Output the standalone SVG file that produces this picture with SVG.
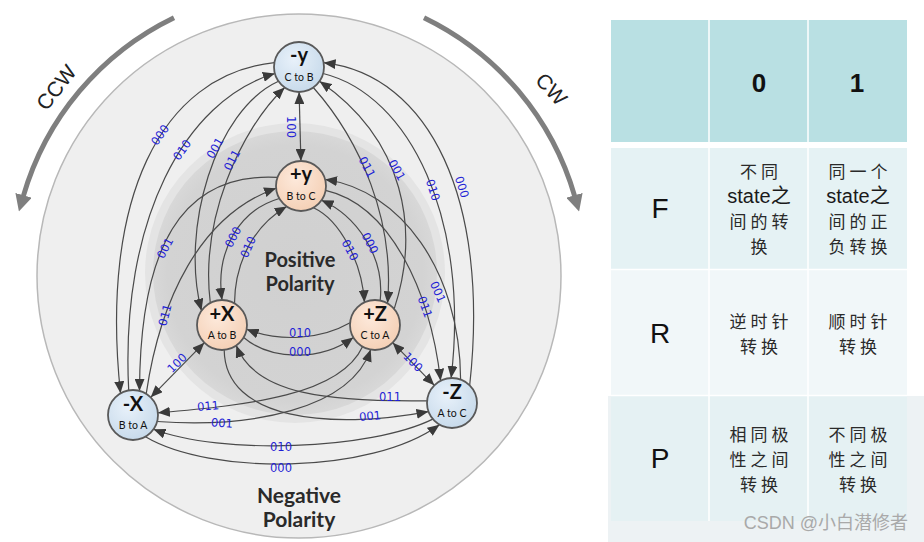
<svg xmlns="http://www.w3.org/2000/svg" width="924" height="542" viewBox="0 0 924 542">
<style>
.edge{fill:none;stroke:#4a4a4a;stroke-width:1.2;marker-end:url(#ah)}
.bi{marker-start:url(#ah)}
.lbl{font-family:"DejaVu Sans",sans-serif;font-size:11.5px;fill:#1f1fd6;text-anchor:middle}
.nt{font-family:Lato,"Liberation Sans",sans-serif;font-weight:bold;font-size:20px;text-anchor:middle;fill:#111}
.ns{font-family:Lato,"Liberation Sans",sans-serif;font-size:10.5px;text-anchor:middle;fill:#111}
.neg{fill:url(#gneg);stroke:#595959;stroke-width:1.8}
.pos{fill:url(#gpos);stroke:#595959;stroke-width:1.8}
.pol{font-family:Lato,"Liberation Sans",sans-serif;font-weight:bold;font-size:20px;text-anchor:middle;fill:#2a2a2a}
.rot{fill:none;stroke:#7f7f7f;stroke-width:5;marker-end:url(#big)}
.rt{font-family:"Liberation Sans",sans-serif;font-size:21px;fill:#222;text-anchor:middle}
.hd{font-family:"Liberation Sans",sans-serif;font-weight:bold;font-size:26px;fill:#111;text-anchor:middle}
.rl{font-family:"Liberation Sans",sans-serif;font-size:28px;fill:#111;text-anchor:middle}
.cj{font-family:"Liberation Sans","Noto Sans CJK SC",sans-serif;font-size:17px;fill:#2a2a2a;text-anchor:middle;letter-spacing:4px}
.st{font-family:"Liberation Sans","Noto Sans CJK SC",sans-serif;font-size:20px;fill:#1a1a1a;text-anchor:middle}
</style>
<defs>
<marker id="ah" viewBox="0 0 12 10" refX="12" refY="5" markerWidth="12" markerHeight="10" markerUnits="userSpaceOnUse" orient="auto-start-reverse"><path d="M0,0 L12,5 L0,10 z" fill="#3a3a3a"/></marker>
<marker id="big" viewBox="0 0 10 10" refX="1" refY="5" markerWidth="17" markerHeight="17" markerUnits="userSpaceOnUse" orient="auto"><path d="M0,0 L10,5 L0,10 z" fill="#7f7f7f"/></marker>
<radialGradient id="gneg" cx="0.4" cy="0.35" r="0.7"><stop offset="0" stop-color="#e8f1fa"/><stop offset="1" stop-color="#c6d9ea"/></radialGradient>
<radialGradient id="gpos" cx="0.4" cy="0.35" r="0.7"><stop offset="0" stop-color="#fde9db"/><stop offset="1" stop-color="#f4cfb4"/></radialGradient>
<radialGradient id="ginner" cx="0.5" cy="0.5" r="0.5"><stop offset="0" stop-color="#d0d0d0"/><stop offset="0.9" stop-color="#d3d3d3"/><stop offset="1" stop-color="#d8d8d8"/></radialGradient>
</defs>
<rect width="924" height="542" fill="#ffffff"/>
<g id="background">
<circle cx="299" cy="276" r="262" fill="#efefef" stroke="#b8b8b8" stroke-width="1.5"/>
<circle cx="295" cy="273" r="150" fill="#e4e4e4"/>
<circle cx="295" cy="273" r="142" fill="url(#ginner)"/>
<text class="pol" x="300" y="267">Positive</text>
<text class="pol" x="300" y="291">Polarity</text>
<text class="pol" x="299" y="503" style="font-size:21px">Negative</text>
<text class="pol" x="299" y="527" style="font-size:21px">Polarity</text>
</g>
<g id="rotation">
<path class="rot" d="M174,17.7 A287,287 0 0 0 23.1,196.9"/>
<path class="rot" d="M424,17.7 A287,287 0 0 1 574.9,196.9"/>
<text class="rt" transform="translate(62,92) rotate(-52)">CCW</text>
<text class="rt" transform="translate(546,94) rotate(48)">CW</text>
</g>
<g id="connectors">
<path class="edge bi" d="M299.1,92 L300.9,161"/>
<path class="edge bi" d="M150.7,397.3 L204.3,342.7"/>
<path class="edge bi" d="M392.7,342.7 L434.3,385.3"/>
<path class="edge" d="M274.4,62.7 C160,75 100,200 120.5,393.3"/>
<path class="edge" d="M128.7,390.4 C120,220 185,100 274.9,73.5"/>
<path class="edge" d="M278.5,81.3 C215,110 180,230 201.5,310.7"/>
<path class="edge" d="M210.3,302.9 C200,220 240,130 284.7,87.5"/>
<path class="edge" d="M277.5,177.4 C180,172 140,250 139.5,390.9"/>
<path class="edge" d="M146.2,393.8 C160,300 200,215 276.1,188.2"/>
<path class="edge" d="M469.7,385.3 C490,200 430,75 323.6,62.7"/>
<path class="edge" d="M323.1,73.5 C410,95 470,220 451.1,378"/>
<path class="edge" d="M313.3,87.5 C360,140 395,220 387.5,303.3"/>
<path class="edge" d="M394.2,308.9 C420,230 405,140 319.5,81.3"/>
<path class="edge" d="M460.6,379.5 C460,270 400,190 325.1,179.5"/>
<path class="edge" d="M325.6,190.3 C390,205 430,290 440.6,380.7"/>
<path class="edge" d="M224.2,349.9 C225,420 330,430 428.5,411.6"/>
<path class="edge" d="M427.1,400.8 C330,402 255,395 236.3,345.5"/>
<path class="edge" d="M157.1,421.5 C250,428 350,410 370.7,349.6"/>
<path class="edge" d="M362.5,346.7 C340,395 250,405 157.9,412.8"/>
<path class="edge" d="M432.8,419.1 C370,450 220,455 153.5,429.3"/>
<path class="edge" d="M145.5,436.7 C210,475 370,475 439.5,424.7"/>
<path class="edge" d="M350.1,322.8 C320,340 280,342 246.6,329.3"/>
<path class="edge" d="M243.7,337.5 C270,360 320,362 353.3,337.5"/>
<path class="edge" d="M279.3,198.5 C240,210 215,250 222,300"/>
<path class="edge" d="M234.5,303.3 C235,260 255,225 286.7,206.5"/>
<path class="edge" d="M313.5,207.7 C340,220 362,262 364.4,302.3"/>
<path class="edge" d="M380.2,300.5 C385,255 355,215 321.5,200.3"/>
</g>
<g id="labels">
<text class="lbl" dy=".35em" transform="translate(160,135) rotate(-55)">000</text>
<text class="lbl" dy=".35em" transform="translate(182,150) rotate(-55)">010</text>
<text class="lbl" dy=".35em" transform="translate(215,148) rotate(-60)">001</text>
<text class="lbl" dy=".35em" transform="translate(232,160) rotate(-62)">011</text>
<text class="lbl" dy=".35em" transform="translate(165,248) rotate(-62)">001</text>
<text class="lbl" dy=".35em" transform="translate(165,315) rotate(-75)">011</text>
<text class="lbl" dy=".35em" transform="translate(177,363) rotate(-45)">100</text>
<text class="lbl" dy=".35em" transform="translate(233,237) rotate(-62)">000</text>
<text class="lbl" dy=".35em" transform="translate(248,247) rotate(-66)">010</text>
<text class="lbl" dy=".35em" transform="translate(291,127) rotate(90)">100</text>
<text class="lbl" dy=".35em" transform="translate(367,167) rotate(62)">011</text>
<text class="lbl" dy=".35em" transform="translate(397,170) rotate(60)">001</text>
<text class="lbl" dy=".35em" transform="translate(433,190) rotate(72)">010</text>
<text class="lbl" dy=".35em" transform="translate(462,187) rotate(72)">000</text>
<text class="lbl" dy=".35em" transform="translate(350,250) rotate(62)">010</text>
<text class="lbl" dy=".35em" transform="translate(370,243) rotate(62)">000</text>
<text class="lbl" dy=".35em" transform="translate(438,292) rotate(66)">001</text>
<text class="lbl" dy=".35em" transform="translate(425,307) rotate(70)">011</text>
<text class="lbl" dy=".35em" transform="translate(413,362) rotate(45)">100</text>
<text class="lbl" dy=".35em" x="300" y="333">010</text>
<text class="lbl" dy=".35em" x="300" y="352">000</text>
<text class="lbl" dy=".35em" transform="translate(208,406) rotate(-5)">011</text>
<text class="lbl" dy=".35em" transform="translate(222,423) rotate(4)">001</text>
<text class="lbl" dy=".35em" x="390" y="397">011</text>
<text class="lbl" dy=".35em" transform="translate(370,416) rotate(-5)">001</text>
<text class="lbl" dy=".35em" x="281" y="447">010</text>
<text class="lbl" dy=".35em" x="281" y="468">000</text>
</g>
<g id="node-neg-y"><circle class="neg" cx="299" cy="67" r="25"/><text class="nt" x="299" y="62">-y</text><text class="ns" x="299" y="81">C to B</text></g>
<g id="node-pos-y"><circle class="pos" cx="301" cy="186" r="25"/><text class="nt" x="301" y="181">+y</text><text class="ns" x="301" y="200">B to C</text></g>
<g id="node-pos-x"><circle class="pos" cx="222" cy="325" r="25"/><text class="nt" x="222" y="321">+X</text><text class="ns" x="222" y="339">A to B</text></g>
<g id="node-pos-z"><circle class="pos" cx="375" cy="325" r="25"/><text class="nt" x="375" y="321">+Z</text><text class="ns" x="375" y="339">C to A</text></g>
<g id="node-neg-x"><circle class="neg" cx="133" cy="415" r="25"/><text class="nt" x="133" y="411">-X</text><text class="ns" x="133" y="429">B to A</text></g>
<g id="node-neg-z"><circle class="neg" cx="452" cy="403" r="25"/><text class="nt" x="452" y="399">-Z</text><text class="ns" x="452" y="417">A to C</text></g>
<g id="table">
<rect x="608" y="396" width="316" height="146" fill="#edf2f4"/>
<rect x="611" y="20" width="296" height="122" fill="#b9e0e3"/>
<rect x="611" y="148" width="296" height="121" fill="#e5f2f4"/>
<rect x="611" y="270" width="296" height="125" fill="#f1f7f9"/>
<rect x="611" y="396" width="296" height="125" fill="#e5f1f3"/>
<g stroke="#ffffff" stroke-width="1.5">
<line x1="709" y1="20" x2="709" y2="521"/>
<line x1="808" y1="20" x2="808" y2="521"/>
<line x1="611" y1="269.5" x2="907" y2="269.5"/>
<line x1="611" y1="395.5" x2="907" y2="395.5"/>
</g>
<text class="hd" x="759" y="92">0</text>
<text class="hd" x="857" y="92">1</text>
<text class="rl" x="660" y="218">F</text>
<text class="rl" x="660" y="343">R</text>
<text class="rl" x="660" y="468">P</text>
<text class="cj" x="761" y="178">不同</text>
<text class="st" x="759" y="203">state之</text>
<text class="cj" x="761" y="228">间的转</text>
<text class="cj" x="761" y="253">换</text>
<text class="cj" x="860" y="178">同一个</text>
<text class="st" x="858" y="203">state之</text>
<text class="cj" x="860" y="228">间的正</text>
<text class="cj" x="860" y="253">负转换</text>
<text class="cj" x="761" y="328">逆时针</text>
<text class="cj" x="761" y="353">转换</text>
<text class="cj" x="860" y="328">顺时针</text>
<text class="cj" x="860" y="353">转换</text>
<text class="cj" x="761" y="441">相同极</text>
<text class="cj" x="761" y="466">性之间</text>
<text class="cj" x="761" y="491">转换</text>
<text class="cj" x="860" y="441">不同极</text>
<text class="cj" x="860" y="466">性之间</text>
<text class="cj" x="860" y="491">转换</text>
<text x="908" y="529" text-anchor="end" style="font-family:'Liberation Sans','Noto Sans CJK SC',sans-serif;font-size:18px;fill:#a9a9a9">CSDN @小白潜修者</text>
</g>
</svg>
